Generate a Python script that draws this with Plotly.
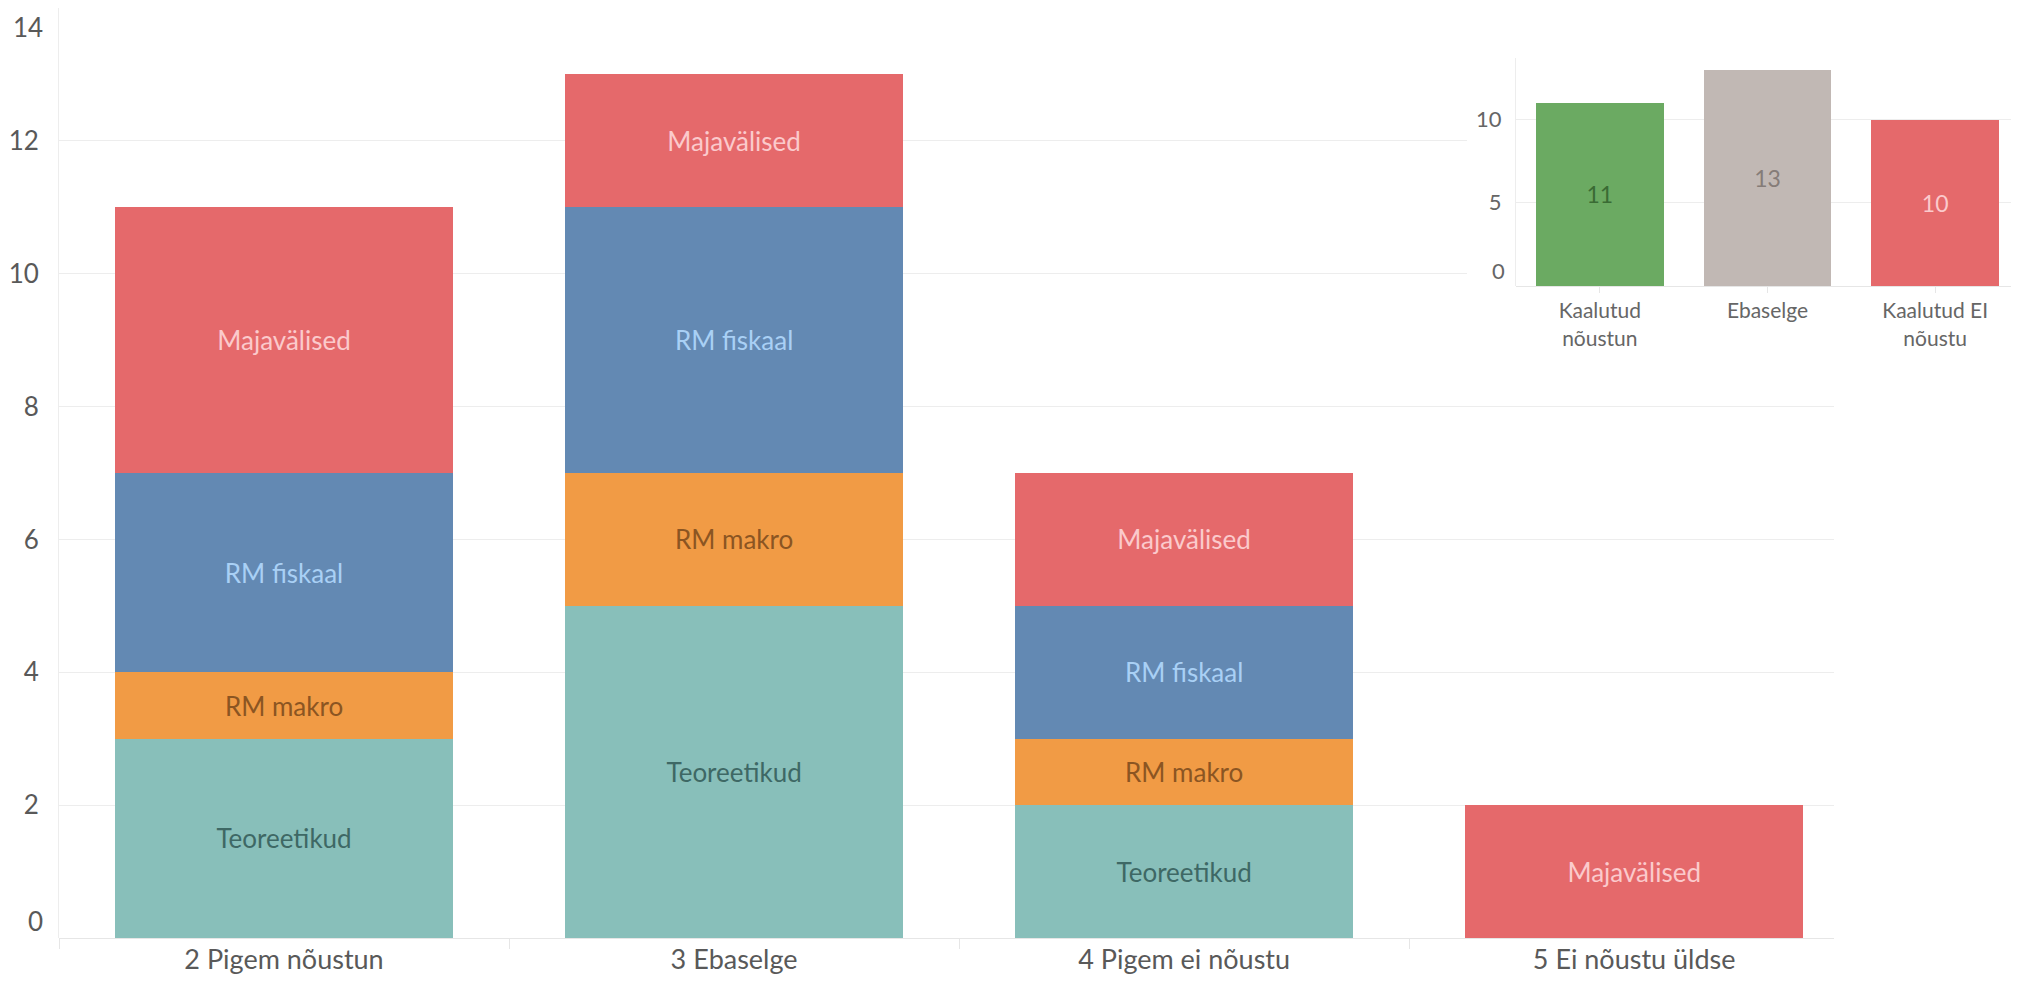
import plotly.graph_objects as go

# main chart: answer categories, stacked by group
categories = ["2 Pigem nõustun", "3 Ebaselge", "4 Pigem ei nõustu", "5 Ei nõustu üldse"]
teoreetikud = [3, 5, 2, None]
rm_makro = [1, 2, 1, None]
rm_fiskaal = [3, 4, 2, None]
majavalised = [4, 2, 2, 2]
y_ticks = [0, 2, 4, 6, 8, 10, 12, 14]

# inset: weighted summary
summary_labels = ["Kaalutud<br>nõustun", "Ebaselge", "Kaalutud EI<br>nõustu"]
summary_values = [11, 13, 10]
summary_ticks = [0, 5, 10]

FONT = "Lato, 'Open Sans', sans-serif"
PAGE_MARGIN = 8  # default <body> margin of the html page
W, H = 2019 - PAGE_MARGIN, 983 - PAGE_MARGIN


def px_x(px):
    return (px - PAGE_MARGIN) / W


def px_y(py):
    return 1 - (py - PAGE_MARGIN) / H


series = [
    ("Teoreetikud", teoreetikud, "#88BFBA", "#3E6865"),
    ("RM makro", rm_makro, "#F19B45", "#8B5522"),
    ("RM fiskaal", rm_fiskaal, "#6389B3", "#A9D0F5"),
    ("Majavälised", majavalised, "#E5696B", "#FBCACC"),
]

fig = go.Figure()
for name, vals, color, text_color in series:
    fig.add_trace(go.Bar(
        x=categories, y=vals, name=name,
        marker=dict(color=color, line=dict(width=0)),
        width=0.75,
        text=[name if v else "" for v in vals],
        textposition="inside", insidetextanchor="middle",
        textfont=dict(family=FONT, size=26, color=text_color),
        xaxis="x", yaxis="y",
    ))

# empty subplot whose white background hides the main gridlines behind the inset
fig.add_trace(go.Scatter(x=[], y=[], xaxis="x2", yaxis="y2", hoverinfo="skip"))

fig.add_trace(go.Bar(
    x=[0, 1, 2], y=summary_values,
    marker=dict(color=["#6BAA62", "#C1B8B4", "#E5696B"], line=dict(width=0)),
    width=0.76,
    text=[str(v) for v in summary_values],
    textposition="inside", insidetextanchor="middle",
    textfont=dict(family=FONT, size=23, color=["#3A6B34", "#857C78", "#FBCACC"]),
    xaxis="x3", yaxis="y3",
))

# edge ticks are drawn as annotations: they sit inside the plot like in Tableau
main_edge = [y_ticks[0], y_ticks[-1]]
inset_edge = [summary_ticks[0]]

grid = "#EDEDED"
hidden = dict(visible=False, showgrid=False, zeroline=False, automargin=False)
fig.update_layout(
    width=W, height=H,
    margin=dict(l=0, r=0, t=0, b=0),
    paper_bgcolor="white", plot_bgcolor="white",
    barmode="stack", showlegend=False,
    font=dict(family=FONT, color="#595959"),
    xaxis=dict(
        domain=[px_x(59), px_x(1834)], range=[-0.5, 3.444], automargin=False,
        type="category", showgrid=False, zeroline=False, showline=False,
        ticks="outside", tickson="boundaries", ticklen=10, tickcolor="#E6E6E6",
        tickfont=dict(family=FONT, size=27, color="#595959"),
        ticklabelstandoff=3,
    ),
    yaxis=dict(
        domain=[px_y(938), px_y(8)], range=[0, 14], automargin=False,
        tickvals=y_ticks, ticktext=["" if t in main_edge else str(t) for t in y_ticks],
        showgrid=True, gridcolor=grid, gridwidth=1,
        zeroline=True, zerolinecolor="#E6E6E6", zerolinewidth=1,
        showline=True, linecolor="#EDEDED", linewidth=1,
        tickfont=dict(family=FONT, size=26, color="#595959"),
        ticklabelstandoff=14,
    ),
    xaxis2=dict(domain=[px_x(1467), px_x(1834)], range=[0, 1], anchor="y2", **hidden),
    yaxis2=dict(domain=[px_y(390), px_y(18)], range=[0, 1], anchor="x2", **hidden),
    xaxis3=dict(
        domain=[px_x(1516), 1.0], range=[-0.5, 2.5], anchor="y3", automargin=False,
        tickvals=[0, 1, 2], ticktext=summary_labels,
        showgrid=False, zeroline=False,
        ticks="outside", tickson="boundaries", ticklen=6, tickcolor="#E6E6E6",
        tickfont=dict(family=FONT, size=21, color="#666666"),
        ticklabelstandoff=0,
    ),
    yaxis3=dict(
        domain=[px_y(286), px_y(58)], range=[0, 13.7], anchor="x3", automargin=False,
        tickvals=summary_ticks,
        ticktext=["" if t in inset_edge else str(t) for t in summary_ticks],
        showgrid=True, gridcolor=grid, gridwidth=1,
        zeroline=True, zerolinecolor="#E6E6E6", zerolinewidth=1,
        showline=True, linecolor="#EDEDED", linewidth=1,
        tickfont=dict(family=FONT, size=22, color="#666666"),
        ticklabelstandoff=9,
    ),
)

for t in main_edge:
    fig.add_annotation(
        x=0, xref="x domain", xanchor="right", xshift=-14,
        y=t, yref="y", yanchor="middle", yshift=17 if t == y_ticks[0] else -19,
        text=str(t), showarrow=False,
        font=dict(family=FONT, size=26, color="#595959"),
    )
for t in inset_edge:
    fig.add_annotation(
        x=0, xref="x3 domain", xanchor="right", xshift=-9,
        y=t, yref="y3", yanchor="middle", yshift=16,
        text=str(t), showarrow=False,
        font=dict(family=FONT, size=22, color="#666666"),
    )

fig.write_html("out.html")
